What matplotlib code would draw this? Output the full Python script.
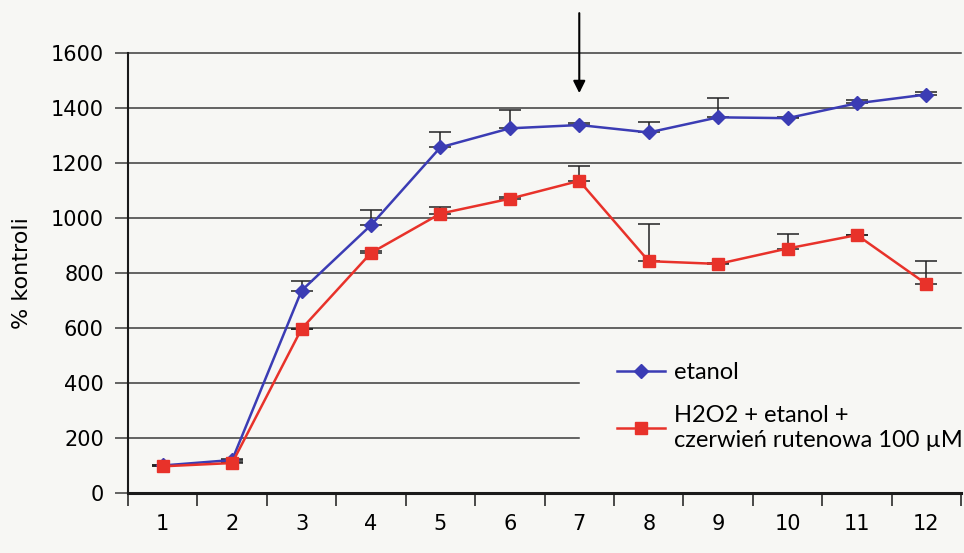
import matplotlib.pyplot as plt
from matplotlib.ticker import FixedLocator, NullFormatter

# dane
kategorie = list(range(1, 13))
etanol = [100, 120, 736, 974, 1257, 1326, 1338, 1311, 1366, 1363, 1417, 1449]
etanol_err = [0, 5, 34, 54, 54, 68, 6, 39, 70, 5, 12, 8]
czerwien = [97, 109, 597, 873, 1016, 1070, 1135, 843, 833, 889, 938, 760]
czerwien_err = [0, 5, 0, 7, 25, 5, 54, 134, 4, 54, 0, 83]
yticks = [0, 200, 400, 600, 800, 1000, 1200, 1400, 1600]

niebieski = '#3b3cb4'
czerwony = '#e8322a'
siatka = '#3a3a3a'
tlo = '#f7f7f4'
ftxt = ['Lato', 'DejaVu Sans']
fnum = dict(family='DejaVu Sans', fontsize=15)

fig = plt.figure(figsize=(9.64, 5.53), dpi=100, facecolor=tlo)
ax = fig.add_axes([0.1328, 0.1085, 0.8642, 0.7957], facecolor=tlo)

ax.set_xlim(0.5, 12.5)
ax.set_ylim(0, 1600)

# linie siatki: 200 i 400 tylko do kategorii 7 (legenda)
for y in yticks[1:]:
    x_end = 7 if y <= 400 else 12.5
    ax.plot([0.5, x_end], [y, y], color=siatka, lw=1.1, zorder=1, clip_on=False)

# słupki błędów (tylko w górę)
ax.errorbar(kategorie, etanol, yerr=[[0] * 12, etanol_err], fmt='none',
            ecolor='#222222', elinewidth=1.1, capsize=8, capthick=1.1, zorder=2)
ax.errorbar(kategorie, czerwien, yerr=[[0] * 12, czerwien_err], fmt='none',
            ecolor='#222222', elinewidth=1.1, capsize=8, capthick=1.1, zorder=2)

ax.plot(kategorie, etanol, color=niebieski, lw=1.8, marker='D', ms=7,
        label='etanol', zorder=3)
ax.plot(kategorie, czerwien, color=czerwony, lw=1.8, marker='s', ms=9,
        label='H2O2 + etanol +\nczerwień rutenowa 100 µM', zorder=4)

# strzałka nad 7
ax.annotate('', xy=(7, 1444), xytext=(7, 1755),
            arrowprops=dict(arrowstyle='-|>', color='black', lw=1.5,
                            mutation_scale=18), annotation_clip=False)

for s in ['top', 'right']:
    ax.spines[s].set_visible(False)
ax.spines['left'].set_linewidth(1.5)
ax.spines['bottom'].set_linewidth(2.2)
ax.spines['left'].set_color('#1a1a1a')
ax.spines['bottom'].set_color('#1a1a1a')

ax.set_yticks(yticks)
ax.set_yticklabels([str(v) for v in yticks], **fnum)
ax.tick_params(axis='y', direction='out', length=9.4, width=1.1, color=siatka, pad=8)

ax.xaxis.set_major_locator(FixedLocator(kategorie))
ax.set_xticklabels([str(k) for k in kategorie], **fnum)
ax.tick_params(axis='x', which='major', length=0, pad=15)
ax.xaxis.set_minor_locator(FixedLocator([k + 0.5 for k in range(0, 13)]))
ax.xaxis.set_minor_formatter(NullFormatter())
ax.tick_params(axis='x', which='minor', direction='out', length=9, width=1.1, color='#1a1a1a')

ax.set_ylabel('% kontroli', family='DejaVu Sans', fontsize=16)
ax.yaxis.set_label_coords(-0.115, 0.5)

leg = ax.legend(loc='upper left', bbox_to_anchor=(0.562, 0.345), frameon=False,
                prop={'family': ftxt, 'size': 17}, handlelength=2.0,
                handletextpad=0.4, labelspacing=0.93)

fig.savefig('out.png', dpi=100, facecolor=tlo)
